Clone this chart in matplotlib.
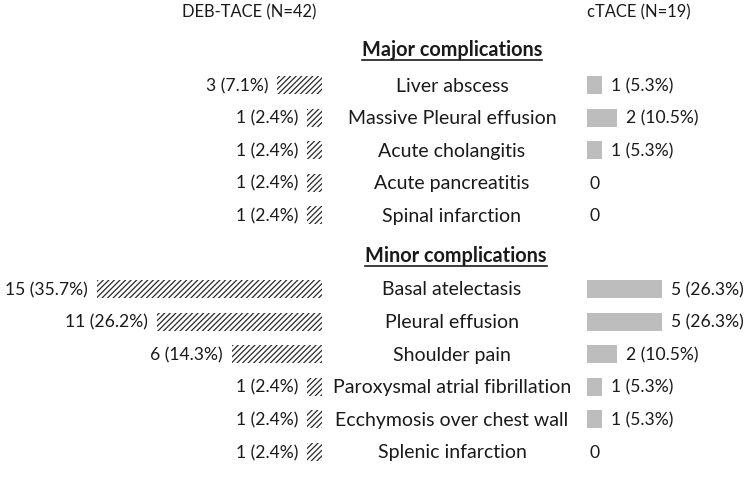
import numpy as np
import matplotlib
matplotlib.use("Agg")
import matplotlib.pyplot as plt

# Data
major_labels = ["Liver abscess", "Massive Pleural effusion", "Acute cholangitis",
                "Acute pancreatitis", "Spinal infarction"]
major_deb = [3, 1, 1, 1, 1]
major_ctace = [1, 2, 1, 0, 0]

minor_labels = ["Basal atelectasis", "Pleural effusion", "Shoulder pain",
                "Paroxysmal atrial fibrillation", "Ecchymosis over chest wall",
                "Splenic infarction"]
minor_deb = [15, 11, 6, 1, 1, 1]
minor_ctace = [5, 5, 2, 1, 1, 0]

N_DEB = 42
N_CTACE = 19

# Layout (x in counts, 15 px per count; y in pixels from top)
W, H = 750, 481
X_LEFT_END = 322 / 15
X_RIGHT_START = 587 / 15
X_CENTER = 452 / 15
Y_MAJOR = 86 + 32.6 * np.arange(len(major_labels))
Y_MINOR = 290 + 32.6 * np.arange(len(minor_labels))
BAR_H = 18

plt.rcParams['font.family'] = ['Lato', 'DejaVu Sans']
plt.rcParams['hatch.linewidth'] = 0.9
FS = 14.0       # row labels
FS_VAL = 12.6   # value labels
FS_HEAD = 11.9  # column headers
TXT = '#1a1a1a'

fig = plt.figure(figsize=(W / 100, H / 100), dpi=100)
ax = fig.add_axes([0, 0, 1, 1])
ax.set_xlim(0, W / 15)
ax.set_ylim(H, 0)
ax.axis('off')


def fmt(n, total):
    if n == 0:
        return "0"
    return f"{n} ({100 * n / total:.1f}%)"


def draw_section(ys, labels, deb, ctace):
    ax.barh(ys, [-d for d in deb], left=X_LEFT_END, height=BAR_H,
            color='white', edgecolor='#2a2a2a', linewidth=0, hatch='//////')
    ax.barh(ys, ctace, left=X_RIGHT_START, height=BAR_H,
            color='#bdbdbd', linewidth=0)
    for y, lab, d, c in zip(ys, labels, deb, ctace):
        ax.text(X_CENTER, y, lab, ha='center', va='center', fontsize=FS, color=TXT)
        ax.annotate(fmt(d, N_DEB), (X_LEFT_END - d, y), xytext=(-9, 0),
                    textcoords='offset pixels', ha='right', va='center',
                    fontsize=FS_VAL, color=TXT)
        off = 9 if c > 0 else 3
        ax.annotate(fmt(c, N_CTACE), (X_RIGHT_START + c, y), xytext=(off, 0),
                    textcoords='offset pixels', ha='left', va='center',
                    fontsize=FS_VAL, color=TXT)


draw_section(Y_MAJOR, major_labels, major_deb, major_ctace)
draw_section(Y_MINOR, minor_labels, minor_deb, minor_ctace)

# column headers
ax.text(249 / 15, 12, f"DEB-TACE (N={N_DEB})", ha='center', va='center',
        fontsize=FS_HEAD, color=TXT)
ax.text(X_RIGHT_START, 12, f"cTACE (N={N_CTACE})", ha='left', va='center',
        fontsize=FS_HEAD, color=TXT)

# section headers with underline
heads = []
heads.append(ax.text(X_CENTER, 50, "Major complications", ha='center', va='center',
                     fontsize=14.3, fontweight='bold', color=TXT))
heads.append(ax.text(X_CENTER + 4 / 15, 256, "Minor complications", ha='center',
                     va='center', fontsize=14.3, fontweight='bold', color=TXT))
fig.canvas.draw()
inv = ax.transData.inverted()
for t in heads:
    bb = t.get_window_extent()
    (x0, y0), (x1, _) = inv.transform([(bb.x0, bb.y0), (bb.x1, bb.y1)])
    ax.plot([x0, x1], [y0 + 1, y0 + 1], color=TXT, lw=1.2)

fig.savefig("out.png", dpi=100)
